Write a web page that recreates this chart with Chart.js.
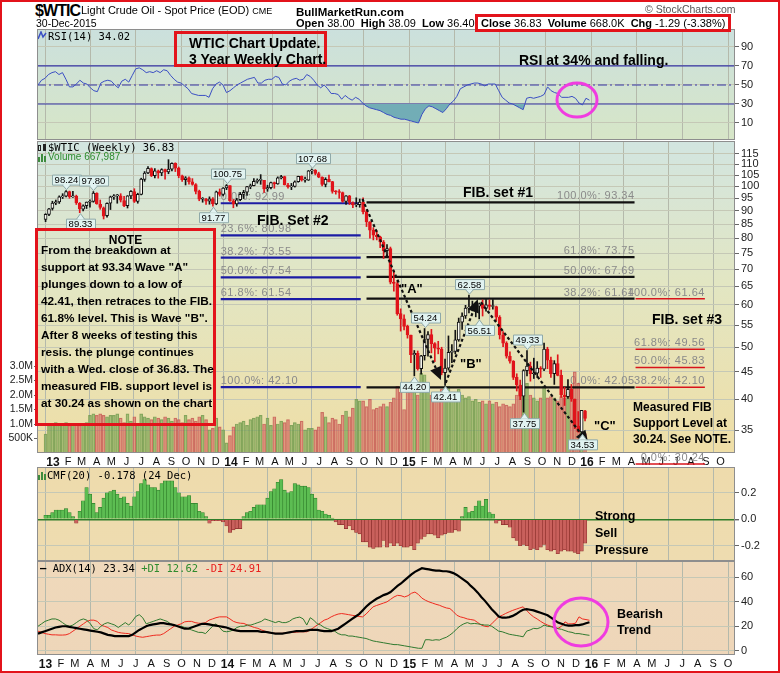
<!DOCTYPE html>
<html>
<head>
<meta charset="utf-8">
<title>$WTIC weekly</title>
<script src="https://cdn.jsdelivr.net/npm/chart.js@4.4.1/dist/chart.umd.min.js"></script>
<style>
  body { margin: 0; background: #fff; }
  #wrap { position: relative; width: 780px; height: 673px; overflow: hidden; background: #fff;
          font-family: 'Liberation Sans', Arial, sans-serif; color: #000; }
  #wrap canvas { position: absolute; left: 0; }
  .t { position: absolute; white-space: nowrap; line-height: 1; }
  .b { font-weight: bold; }
  .mono { font-family: 'DejaVu Sans Mono', monospace; font-size: 10.5px; }
  .ann { font-weight: bold; font-size: 13px; }
  .box { position: absolute; border: 3px solid #e3131b; box-sizing: border-box; }
  .ico { position: absolute; }
  #frame { position: absolute; left: 0; top: 0; width: 780px; height: 673px; box-sizing: border-box;
           border: 2px solid #e3131b; pointer-events: none; }
  svg.ov { position: absolute; left: 0; top: 0; }
</style>
</head>
<body>
<div id="wrap">
  <canvas id="rsiCv" width="780" height="111" style="top:29px"></canvas>
  <canvas id="priceCv" width="780" height="326" style="top:141px"></canvas>
  <canvas id="cmfCv" width="780" height="94" style="top:467px"></canvas>
  <canvas id="adxCv" width="780" height="112" style="top:561px"></canvas>

  <!-- header -->
  <div class="t b" style="left:35px;top:3px;font-size:16px;letter-spacing:-0.9px">$WTIC</div>
  <div class="t" style="left:81px;top:5px;font-size:11px">Light Crude Oil - Spot Price (EOD) <span style="font-size:9px">CME</span></div>
  <div class="t" style="left:36px;top:18px;font-size:10.5px">30-Dec-2015</div>
  <div class="t b" style="left:296px;top:7px;font-size:11.5px">BullMarketRun.com</div>
  <div class="t" style="left:296px;top:18px;font-size:11px"><b>Open</b> 38.00 &nbsp;<b>High</b> 38.09 &nbsp;<b>Low</b> 36.40</div>
  <div class="box" style="left:475px;top:14px;width:256px;height:18px"></div>
  <div class="t" style="left:481px;top:18px;font-size:11px"><b>Close</b> 36.83 &nbsp;<b>Volume</b> 668.0K &nbsp;<b>Chg</b> -1.29 (-3.38%)</div>
  <div class="t" style="left:645px;top:4px;font-size:10.5px;color:#555">© StockCharts.com</div>

  <!-- RSI panel texts -->
  <svg class="ico" style="left:38px;top:31px" width="9" height="9"><polyline points="0,8 3,1 5,6 8,2" fill="none" stroke="#3b4fc4" stroke-width="1.5"/></svg>
  <div class="t mono" style="left:48px;top:31px">RSI(14) 34.02</div>
  <div class="box" style="left:174px;top:31px;width:153px;height:36px"></div>
  <div class="t ann" style="left:189px;top:36px;font-size:14px">WTIC Chart Update.</div>
  <div class="t ann" style="left:189px;top:52px;font-size:14px">3 Year Weekly Chart.</div>
  <div class="t ann" style="left:519px;top:53px;font-size:14px">RSI at 34% and falling.</div>

  <!-- price panel texts -->
  <svg class="ico" style="left:38px;top:143px" width="9" height="9"><rect x="0.5" y="2.5" width="2" height="5" fill="none" stroke="#222"/><rect x="5" y="1" width="3" height="7" fill="#222"/></svg>
  <div class="t mono" style="left:48px;top:142px">$WTIC (Weekly) 36.83</div>
  <svg class="ico" style="left:38px;top:153px" width="9" height="9"><rect x="0" y="4" width="2" height="5" fill="#3d8b3d"/><rect x="3" y="1" width="2" height="8" fill="#3d8b3d"/><rect x="6" y="3" width="2" height="6" fill="#3d8b3d"/></svg>
  <div class="t" style="left:48px;top:152px;font-size:10px;color:#2e8b2e">Volume 667,987</div>
  <div class="t ann" style="left:463px;top:185px;font-size:14px">FIB. set #1</div>
  <div class="t ann" style="left:257px;top:213px;font-size:14px">FIB. Set #2</div>
  <div class="t ann" style="left:652px;top:312px;font-size:14px">FIB. set #3</div>
  <div class="t ann" style="left:401px;top:282px">"A"</div>
  <div class="t ann" style="left:460px;top:357px">"B"</div>
  <div class="t ann" style="left:594px;top:419px">"C"</div>
  <div class="t ann" style="left:633px;top:399px;font-size:12px;line-height:16px">Measured FIB<br>Support Level at<br>30.24. See NOTE.</div>
  <div class="box" style="left:35px;top:228px;width:181px;height:198px"></div>
  <div class="t ann" style="left:35px;top:234px;width:181px;text-align:center;font-size:12px">NOTE</div>
  <div class="t ann" style="left:41px;top:242px;font-size:11.8px;line-height:17px">From the breakdown at<br>support at 93.34 Wave "A"<br>plunges down to a low of<br>42.41, then retraces to the FIB.<br>61.8% level. This is Wave "B".<br>After 8 weeks of testing this<br>resis. the plunge continues<br>with a Wed. close of 36.83. The<br>measured FIB. support level is<br>at 30.24 as shown on the chart</div>

  <!-- CMF / ADX texts -->
  <svg class="ico" style="left:38px;top:471px" width="9" height="9"><rect x="0" y="4" width="2" height="5" fill="#3d8b3d"/><rect x="3" y="1" width="2" height="8" fill="#3d8b3d"/><rect x="6" y="3" width="2" height="6" fill="#3d8b3d"/></svg>
  <div class="t mono" style="left:47px;top:470px">CMF(20) -0.178 (24 Dec)</div>
  <div class="t ann" style="left:595px;top:508px;font-size:12.5px;line-height:17px">Strong<br>Sell<br>Pressure</div>
  <div class="t mono" style="left:40px;top:563px"><span style="font-weight:bold">&#x2014;</span> ADX(14) 23.34 <span style="color:#2e8b2e">+DI 12.62</span> <span style="color:#e8201e">-DI 24.91</span></div>
  <div class="t ann" style="left:617px;top:606px;font-size:12.5px;line-height:16px">Bearish<br>Trend</div>

  <svg class="ov" width="780" height="673">
    <ellipse cx="577" cy="100" rx="20" ry="17" fill="none" stroke="#f03ce0" stroke-width="3"/>
    <ellipse cx="581" cy="622" rx="27" ry="24" fill="none" stroke="#f03ce0" stroke-width="3"/>
  </svg>
  <div id="frame"></div>
</div>

<script>
// ---------- data (weekly, week 0 = week of 17 Dec 2012) ----------
const opens = [86.7,88.6,90.9,93.0,93.5,95.6,95.9,97.8,95.6,95.9,
  93.0,90.6,92.0,93.4,93.7,97.1,92.6,91.2,88.1,93.0,
  95.6,96.0,96.0,94.1,92.0,96.0,97.8,93.7,96.6,103.1,
  106.0,108.0,104.7,106.9,106.0,107.5,106.4,107.7,110.5,108.2,
  104.7,102.9,103.8,102.0,100.8,97.9,94.6,94.6,93.8,94.8,
  92.7,97.7,96.6,99.3,100.3,94.0,92.7,94.4,96.6,97.5,
  99.9,100.3,102.2,102.6,102.6,98.9,99.5,101.7,101.1,103.7,
  104.3,100.6,99.8,100.0,102.0,104.4,102.7,102.7,106.9,107.3,
  105.7,104.1,100.8,103.1,102.1,97.9,97.7,97.4,93.7,96.0,
  93.3,92.3,92.4,93.5,89.7,85.8,82.8,81.0,80.5,78.7,
  75.8,76.5,66.2,65.8,57.8,56.5,54.7,52.7,48.4,48.7,
  45.6,48.2,51.7,52.8,50.8,49.8,49.6,44.8,45.7,48.9,
  49.1,51.6,55.7,57.2,59.2,59.4,59.7,59.7,60.3,59.1,
  60.0,59.6,59.6,56.9,52.7,50.9,48.1,47.1,43.9,42.5,
  40.5,45.2,46.1,44.6,44.7,45.7,45.5,49.6,47.3,44.6,
  46.6,44.3,40.7,40.4,41.7,40.0,35.6,34.7,38.0];
const highs = [88.9,91.0,93.8,94.3,96.0,96.9,98.2,98.0,97.9,96.3,
  93.3,92.4,93.5,94.4,97.8,97.3,94.3,91.5,93.2,95.9,
  96.5,96.6,96.9,95.8,96.1,98.2,99.0,97.1,103.6,106.6,
  108.9,108.3,108.0,107.3,107.9,107.7,112.2,110.7,110.7,108.7,
  105.0,104.3,104.2,103.4,101.2,98.4,95.3,95.0,95.6,95.3,
  98.0,98.9,99.5,100.8,100.4,94.5,95.0,97.4,98.3,100.0,
  101.0,103.4,103.3,105.2,102.6,100.5,101.9,101.9,104.2,104.9,
  104.5,101.3,101.3,102.4,104.5,104.6,104.1,107.1,107.7,107.5,
  106.3,104.2,103.8,105.0,102.2,98.2,98.6,97.6,96.1,96.2,
  93.6,95.2,94.7,95.2,90.4,85.9,83.7,82.6,80.7,79.2,
  77.8,77.0,69.5,66.6,59.0,57.5,55.0,52.7,49.3,49.2,
  48.3,54.2,53.5,54.0,51.0,51.3,50.0,47.5,52.5,50.6,
  53.8,56.7,58.0,59.9,62.6,61.0,60.1,60.5,61.3,61.4,
  61.3,61.4,59.7,57.3,53.5,51.2,49.0,47.2,44.6,43.4,
  45.4,49.3,46.9,47.7,47.0,46.0,50.9,50.0,47.9,47.2,
  48.4,45.3,42.1,43.5,42.6,40.0,37.9,38.1,38.1];
const lows = [85.9,88.1,90.3,92.4,92.9,94.9,95.6,95.0,95.4,92.5,
  89.3,90.0,90.9,91.4,93.4,92.6,90.6,86.9,87.6,90.5,
  94.5,93.0,93.5,91.6,91.1,94.8,93.3,93.0,96.4,102.2,
  105.6,104.3,103.7,103.6,104.7,103.2,105.6,106.9,106.6,103.8,
  102.2,100.6,101.0,100.5,96.8,94.0,93.4,92.5,92.6,91.8,
  92.4,95.9,96.0,98.6,93.7,91.2,91.8,94.0,94.9,96.2,
  99.0,100.2,101.4,100.9,97.4,97.9,98.9,99.2,100.9,103.3,
  100.6,99.2,98.6,99.7,101.8,102.3,101.8,102.6,105.5,105.1,
  103.8,100.2,99.8,101.9,97.1,96.7,95.0,93.4,92.5,92.5,
  91.2,91.6,91.4,88.8,84.1,80.0,79.4,79.4,76.8,73.3,
  73.9,65.7,63.7,57.4,53.6,53.9,52.0,46.8,44.2,45.3,
  44.5,47.3,48.1,48.8,47.0,48.6,44.4,42.4,45.3,46.8,
  48.6,51.3,54.0,56.6,58.0,58.5,57.0,56.5,57.2,58.4,
  58.8,58.9,56.0,51.8,50.1,47.7,46.7,43.5,41.4,39.9,
  37.8,44.2,43.2,43.7,43.9,43.9,45.2,45.6,43.9,42.6,
  44.2,40.3,38.9,40.1,39.6,35.2,34.7,34.5,36.4];
const closes = [88.7,90.8,93.1,93.6,95.6,95.9,97.8,95.7,95.9,93.1,
  90.7,92.0,93.5,93.7,97.2,92.7,91.3,88.0,93.0,95.6,
  96.0,96.0,94.2,92.0,96.0,97.9,93.7,96.6,103.2,105.9,
  108.1,104.7,106.9,106.0,107.5,106.4,107.7,110.5,108.2,104.7,
  102.9,103.8,102.0,100.8,97.9,94.6,94.6,93.8,94.8,92.7,
  97.7,96.6,99.3,100.3,94.0,92.7,94.4,96.6,97.5,99.9,
  100.3,102.2,102.6,102.6,98.9,99.5,101.7,101.1,103.7,104.3,
  100.6,99.8,100.0,102.0,104.4,102.7,102.7,106.9,107.3,105.7,
  104.1,100.8,103.1,102.1,97.9,97.7,97.4,93.7,96.0,93.3,
  92.3,92.4,93.5,89.7,85.8,82.8,81.0,80.5,78.7,75.8,
  76.5,66.2,65.8,57.8,56.5,54.7,52.7,48.4,48.7,45.6,
  48.2,51.7,52.8,50.8,49.8,49.6,44.8,45.7,48.9,49.1,
  51.6,55.7,57.2,59.2,59.4,59.7,59.7,60.3,59.1,60.0,
  59.6,59.6,56.9,52.7,50.9,48.1,47.1,43.9,42.5,40.5,
  45.2,46.1,44.6,44.7,45.7,45.5,49.6,47.3,44.6,46.6,
  44.3,40.7,40.4,41.7,40.0,35.6,34.7,38.1,36.8];
const volumes = [0.65,0.95,1.0,1.05,1.0,1.0,1.05,0.95,1.0,1.0,
  0.95,1.0,1.05,1.3,1.35,1.3,1.35,1.3,1.25,1.3,
  1.3,1.35,1.2,1.05,1.35,1.1,1.25,1.0,1.35,1.25,
  1.2,1.15,1.25,1.2,1.15,1.25,1.2,1.1,1.2,1.15,
  1.05,1.3,1.15,1.2,1.1,1.25,1.3,1.15,0.8,0.85,
  1.2,0.9,0.8,0.35,0.6,0.9,1.0,1.05,1.1,0.95,
  1.15,1.2,1.25,1.3,1.0,1.2,0.95,1.25,1.0,1.1,
  1.05,1.15,0.95,1.05,1.0,1.1,0.8,0.85,0.85,0.8,
  0.9,1.4,1.25,1.05,1.2,1.15,1.0,1.3,1.45,1.25,
  1.55,1.85,1.8,1.8,1.6,1.85,1.5,1.55,1.6,1.7,
  1.6,1.75,1.9,2.3,2.1,1.5,2.2,2.1,2.2,2.0,
  2.75,2.7,2.3,2.0,1.9,2.0,2.2,2.1,2.3,1.9,
  2.0,2.2,2.0,1.9,1.95,1.8,1.85,1.75,1.8,1.7,
  1.8,1.7,1.75,1.6,1.7,1.65,1.6,1.7,2.0,2.2,
  2.5,2.4,2.0,1.9,1.8,1.9,2.3,1.9,1.95,1.9,
  1.8,1.95,1.9,2.1,2.0,2.8,2.4,1.4,0.67];
const rsi = [50,55,57,61,63,64,61,63,56,48,
  48,51,55,52,51,47,44,43,52,54,
  55,54,50,47,54,56,53,60,67,68,
  66,63,64,63,65,63,66,65,60,56,
  53,52,49,46,41,40,39,39,39,37,
  46,51,53,50,42,44,47,50,52,54,
  56,57,58,52,52,55,56,56,59,58,
  51,50,54,56,57,55,56,61,59,55,
  50,47,50,46,41,41,40,35,39,36,
  34,37,35,31,28,26,25,24,23,21,
  19,18,16,15,14,14,13,12,11,10,
  19,25,28,27,25,23,21,25,30,33,
  38,46,48,50,51,52,52,51,49,51,
  51,51,44,37,34,31,30,28,26,24,
  36,37,36,37,38,40,48,44,42,41,
  37,37,37,38,36,31,29,36,34];
const cmf = [0.03,0.03,0.05,0.07,0.07,0.07,0.08,0.05,0.02,-0.03,
  0.06,0.14,0.24,0.19,0.12,0.05,0.09,0.16,0.20,0.21,
  0.22,0.19,0.16,0.17,0.12,0.10,0.17,0.21,0.27,0.30,
  0.26,0.24,0.24,0.22,0.27,0.29,0.29,0.29,0.24,0.20,
  0.17,0.17,0.18,0.12,0.12,0.06,0.05,0.02,-0.03,-0.01,
  -0.01,-0.01,-0.02,-0.05,-0.10,-0.08,-0.07,-0.07,0.02,0.05,
  0.06,0.09,0.11,0.11,0.11,0.16,0.21,0.23,0.28,0.30,
  0.22,0.20,0.21,0.27,0.26,0.25,0.25,0.24,0.19,0.16,
  0.07,0.06,0.04,0.03,0.01,-0.02,-0.04,-0.04,-0.07,-0.05,
  -0.08,-0.10,-0.11,-0.17,-0.17,-0.21,-0.22,-0.21,-0.21,-0.16,
  -0.21,-0.18,-0.20,-0.18,-0.20,-0.21,-0.21,-0.20,-0.23,-0.18,
  -0.15,-0.13,-0.11,-0.11,-0.12,-0.14,-0.12,-0.11,-0.10,-0.10,
  -0.08,-0.09,0.02,0.09,0.05,0.06,0.10,0.14,0.10,0.15,
  0.05,0.04,-0.03,-0.01,-0.04,-0.04,-0.06,-0.14,-0.16,-0.20,
  -0.19,-0.20,-0.23,-0.22,-0.23,-0.21,-0.19,-0.23,-0.24,-0.23,
  -0.26,-0.24,-0.23,-0.24,-0.24,-0.25,-0.26,-0.24,-0.18];
const adx = [14,15,16,17,18,19,19.5,20,20,19.5,
  19,18.5,18,17.5,17,16.5,16,15.5,15,14,
  13,12.5,12,12,12,12,12,13,15,17,
  18.5,20,21,21.5,22,22.5,22.5,22,21.5,21,
  20,19,18,18,19,20,21,22,22,21.5,
  21,20.5,20,19.5,19,18,17,16.5,16,16,
  16,16,16,16,15.5,15.5,15,14.5,14,14,
  14,14.5,15,15.5,16,16,16,16.5,17,17,
  17,16.5,16,16,16,17,18,20,22,24,
  26,28,30,33,36,38.5,40.5,42.5,44,45.5,
  46.5,48,50.5,53,55,57.5,60,62.5,64.5,66,
  67.5,67,66.5,66,65.5,65.5,65,65,64.5,63.5,
  62,60,58,56,53,50.5,47.5,44,41,37.5,
  34,31,28,27,27,27.5,28.5,30,32,33.5,
  34,33.5,33,32,31,30,29,27,25,23,
  22,21,20.5,20.5,21,21,21.5,22.5,23.3];
const plusDI = [20,22,24,25,26,26,25,23,21,20,
  21,23,25,26,25,22,18,17,20,22,
  23,22,21,19,21,23,21,24,28,29.5,
  27,22,23,24,25,26,25,24,22,21,
  20,20,19,18,17,16,15,15,14,17,
  20,22,19,16,15.5,16,17,19,20,20,
  21,21,22,23,24,26,25,24,23,24,
  23,23,24,26,27,27.5,26,21,27,25,
  22,21,19,18,17,16,14,13,13,12,
  12,11.5,11,10.5,10,9,8,7.5,7,6.5,
  6,5.5,5,5,4.5,4,3.5,3,2.5,2,
  2,9,9,8.5,9,8.7,10,11,12.8,15,
  18,20.4,22,23,22,22.3,22,21.5,21,21,
  20,18,16,15.5,14.5,13.5,13,12.5,12,11.4,
  16,17,18.3,18,19,21,20,19.6,19,18,
  17.5,16.5,15.5,15,14,14,13.5,13,12.6];
const minusDI = [16,15,14,13.5,13,13,12.8,12.8,13,14,
  16,18,20,22,24,25,25,24,21,20,
  19,17,16,15,14.5,14.2,14,13,12,11.4,
  11,11.5,12,12.5,12.8,12.8,14,16,18,20,
  21,22,23.6,24,24,23,22.5,22.3,23,25,
  26,27,27.7,27.7,27.7,26,24,23,22.5,22.3,
  21,20,19,18.3,17,16,15,14.5,14.2,14.2,
  14.2,14.5,15,15,15.2,15.5,15.5,15.5,17,19,
  21,23,25,26,27.7,29,30,30.4,30,29.5,
  29,28.5,28,27.7,30,33,35.9,37,38,39,
  40,42,44,45.3,45,44,45,47,48,46,
  43,41.3,40,39,38,37.2,36,35,34.5,32,
  29,27.7,27,26,25.5,25,23,21,20,19.6,
  22,25,27.7,29,30.5,31.8,33,34,35,35.9,
  33,30,27.7,26,24,22.3,21,20,19,18.3,
  20,23.6,22,22,22.5,27.7,26,25.5,24.9];

// axis ticks
const monthLabels = ['13','F','M','A','M','J','J','A','S','O','N','D',
  '14','F','M','A','M','J','J','A','S','O','N','D',
  '15','F','M','A','M','J','J','A','S','O','N','D',
  '16','F','M','A','M','J','J','A','S','O'];
const priceTicks = [35,40,45,50,55,60,65,70,75,80,85,90,95,100,105,110,115];
const volTicks = [0.5,1.0,1.5,2.0,2.5,3.0];
const volTickLabels = ['500K','1.0M','1.5M','2.0M','2.5M','3.0M'];
const rsiTicks = [10,30,50,70,90];
const rsiLevels = [70,50,30];
const cmfTicks = [-0.2,0,0.2];
const adxTicks = [0,20,40,60];

// Fibonacci sets (levels, labels, week span)
const fib1Pct = ['100.0%','61.8%','50.0%','38.2%','0.0%'];
const fib1Val = [93.34,73.75,67.69,61.64,42.05];
const fib2Pct = ['0.0%','23.6%','38.2%','50.0%','61.8%','100.0%'];
const fib2Val = [92.99,80.98,73.55,67.54,61.54,42.10];
const fib3Pct = ['100.0%','61.8%','50.0%','38.2%','0.0%'];
const fib3Val = [61.64,49.56,45.83,42.10,30.24];
const fibFrom = [94, 51.3, 172.8];
const fibTo = [172.5, 92.3, 193.1];

// price callouts
const calloutWeek = [6,10,14,49,53,78,108,111,117,124,127,140,141,157];
const calloutValue = [98.24,89.33,97.80,91.77,100.75,107.68,44.20,54.24,42.41,62.58,56.51,37.75,49.33,34.53];
const calloutHigh = [true,false,true,false,true,true,false,true,false,true,false,false,true,false];

// wave arrows (week, price)
const waveFromWeek = [92.8,117.2,127.5];
const waveFromPrice = [94.7,42.9,60.7];
const waveToWeek = [115.8,126.6,159];
const waveToPrice = [43.4,61.5,33.0];

// ---------- layout / style ----------
const SANS = "'Liberation Sans', Arial, Helvetica, sans-serif";
const X_MIN = -0.29, X_MAX = 199.7;
const VOL_MAX = 10.76;
const GRID = '#c5c8b6';
const GRID_Q = '#b4b9ab';
const UP = '#111111', DOWN = '#e0141b';
Chart.defaults.font.family = SANS;

const weekStart = Date.UTC(2012, 11, 17);
const monthPos = monthLabels.map((_, k) =>
  (Date.UTC(2013 + Math.floor(k / 12), k % 12, 1) - weekStart) / (7 * 864e5));
const isYear = s => /^\d/.test(s);

const panelBg = {
  id: 'panelBg',
  beforeDraw(chart, args, opts) {
    const { ctx, chartArea: a } = chart;
    const g = ctx.createLinearGradient(0, a.top, 0, a.bottom);
    (opts.stops || [[0, '#fff'], [1, '#fff']]).forEach(s => g.addColorStop(s[0], s[1]));
    ctx.save();
    ctx.fillStyle = g;
    ctx.fillRect(a.left, a.top, a.right - a.left, a.bottom - a.top);
    ctx.restore();
  },
  afterDraw(chart) {
    const { ctx, chartArea: a } = chart;
    ctx.save();
    ctx.strokeStyle = '#8e8e8e';
    ctx.lineWidth = 1;
    ctx.strokeRect(a.left + 0.5, a.top + 0.5, a.right - a.left - 1, a.bottom - a.top - 1);
    ctx.restore();
  }
};
Chart.register(panelBg);

// fixed axis sizes, no automatic label padding
const fixW = w => s => { s.width = w; s.paddingTop = 0; s.paddingBottom = 0; };
const fixH = h => s => { s.height = h; s.paddingLeft = 0; s.paddingRight = 0; };

function xAxis(showLabels, h) {
  return {
    type: 'linear', min: X_MIN, max: X_MAX,
    afterBuildTicks: s => { s.ticks = monthPos.map(v => ({ value: v })); },
    afterFit: fixH(h),
    border: { display: false },
    grid: { color: c => (c.index % 3 === 0 ? GRID_Q : 'rgba(0,0,0,0)'), drawTicks: false },
    ticks: {
      display: showLabels, autoSkip: false, maxRotation: 0, minRotation: 0, padding: 2, color: '#111',
      callback: (v, i) => monthLabels[i],
      font: c => isYear(monthLabels[c.index] || '')
        ? { family: SANS, size: 12, weight: 'bold' }
        : { family: SANS, size: 11 }
    }
  };
}

function rightAxis(extra) {
  return Object.assign({
    position: 'right',
    afterFit: fixW(45),
    border: { display: false },
    grid: { color: GRID, tickColor: '#666', tickLength: 4 },
    ticks: { color: '#222', font: { family: SANS, size: 11 }, padding: 2 }
  }, extra);
}

function baseOptions(stops, scales, padLeft) {
  return {
    responsive: false, animation: false, events: [],
    layout: { padding: { left: padLeft, right: 0, top: 0, bottom: 0 }, autoPadding: false },
    plugins: { legend: { display: false }, tooltip: { enabled: false }, panelBg: { stops } },
    scales
  };
}

const pts = arr => arr.map((v, i) => ({ x: i, y: v }));
const hline = (v, from, to) => [{ x: from, y: v }, { x: to, y: v }];

// ---------- RSI ----------
new Chart(document.getElementById('rsiCv'), {
  type: 'line',
  data: {
    datasets: [
      { data: pts(rsi), borderColor: '#3b4fc4', borderWidth: 1, pointRadius: 0,
        fill: { target: { value: 30 }, above: 'rgba(0,0,0,0)', below: '#72adb6' }, order: 1 },
      ...rsiLevels.map(v => ({
        data: hline(v, X_MIN, X_MAX), borderColor: '#3434a6', borderWidth: 1.2, pointRadius: 0,
        borderDash: v === 50 ? [9, 3, 2, 3] : [], order: 2
      }))
    ]
  },
  options: baseOptions([[0, '#cbe0dd'], [1, '#d7e6c7']], {
    x: xAxis(false, 0),
    y: rightAxis({
      min: -7.9, max: 108.9,
      afterBuildTicks: s => { s.ticks = rsiTicks.map(v => ({ value: v })); },
      ticks: { color: '#222', font: { family: SANS, size: 11 }, padding: 2, callback: v => v }
    })
  }, 37)
});

// ---------- price + volume ----------
const candleUp = closes.map((c, i) => c >= opens[i]);
const volUp = closes.map((c, i) => i === 0 || c >= closes[i - 1]);

const fibSets = [
  { pct: fib1Pct, val: fib1Val, from: fibFrom[0], to: fibTo[0], color: '#111', left: false },
  { pct: fib2Pct, val: fib2Val, from: fibFrom[1], to: fibTo[1], color: '#1c1ca4', left: true },
  { pct: fib3Pct, val: fib3Val, from: fibFrom[2], to: fibTo[2], color: '#d8141b', left: false }
];
const fibDatasets = [];
fibSets.forEach((s, k) => s.val.forEach(v => fibDatasets.push({
  type: 'line', yAxisID: 'y', data: hline(v, s.from, s.to), borderColor: s.color,
  borderWidth: k === 2 ? 1.5 : 2.2, pointRadius: 0, order: 5, clip: k === 2 ? false : undefined
})));

function drawCallout(ctx, x, yTip, text, high) {
  ctx.font = '9.5px ' + SANS;
  const w = Math.round(ctx.measureText(text).width) + 5, h = 10;
  const by = high ? yTip - 5 - h : yTip + 5;
  const bx = Math.round(x - w / 2);
  ctx.fillStyle = '#e1f3f1';
  ctx.strokeStyle = '#8fa9a9';
  ctx.lineWidth = 1;
  ctx.beginPath();
  ctx.moveTo(bx + 0.5, by + 0.5);
  ctx.lineTo(bx + w + 0.5, by + 0.5);
  ctx.lineTo(bx + w + 0.5, by + h + 0.5);
  ctx.lineTo(bx + 0.5, by + h + 0.5);
  ctx.closePath();
  ctx.fill(); ctx.stroke();
  ctx.beginPath();
  const edge = high ? by + h + 0.5 : by + 0.5;
  ctx.moveTo(x - 4, edge); ctx.lineTo(x, yTip); ctx.lineTo(x + 4, edge);
  ctx.fill(); ctx.stroke();
  ctx.fillStyle = '#e1f3f1';
  ctx.fillRect(x - 3, high ? by + h - 1 : by + 1, 6, 1.5);
  ctx.fillStyle = '#000';
  ctx.textAlign = 'center';
  ctx.textBaseline = 'middle';
  ctx.fillText(text, x, by + h / 2 + 1);
}

function drawArrow(ctx, x1, y1, x2, y2) {
  const a = Math.atan2(y2 - y1, x2 - x1), L = 13, W = 6;
  const bx = x2 - L * Math.cos(a), by = y2 - L * Math.sin(a);
  ctx.strokeStyle = '#111';
  ctx.lineWidth = 2.2;
  ctx.setLineDash([3, 2.5]);
  ctx.beginPath(); ctx.moveTo(x1, y1); ctx.lineTo(bx, by); ctx.stroke();
  ctx.setLineDash([]);
  ctx.fillStyle = '#111';
  ctx.beginPath();
  ctx.moveTo(x2, y2);
  ctx.lineTo(bx + W * Math.sin(a), by - W * Math.cos(a));
  ctx.lineTo(bx - W * Math.sin(a), by + W * Math.cos(a));
  ctx.closePath(); ctx.fill();
}

const priceMarks = {
  id: 'priceMarks',
  beforeDatasetsDraw(chart) {
    const { ctx, scales: { x, y } } = chart;
    ctx.save();
    ctx.font = '11px ' + SANS;
    ctx.letterSpacing = '0.5px';
    ctx.fillStyle = '#8a8a8a';
    ctx.textBaseline = 'alphabetic';
    fibSets.forEach(s => s.val.forEach((v, k) => {
      const txt = s.pct[k] + ': ' + v.toFixed(2);
      const py = y.getPixelForValue(v) - 3;
      if (s.left) { ctx.textAlign = 'left'; ctx.fillText(txt, x.getPixelForValue(s.from), py); }
      else { ctx.textAlign = 'right'; ctx.fillText(txt, x.getPixelForValue(s.to), py); }
    }));
    ctx.restore();
  },
  afterDatasetsDraw(chart) {
    const { ctx, scales: { x, y } } = chart;
    ctx.save();
    waveFromWeek.forEach((w, k) => drawArrow(ctx,
      x.getPixelForValue(w), y.getPixelForValue(waveFromPrice[k]),
      x.getPixelForValue(waveToWeek[k]), y.getPixelForValue(waveToPrice[k])));
    calloutWeek.forEach((w, k) => {
      const tip = calloutHigh[k] ? y.getPixelForValue(highs[w]) - 1 : y.getPixelForValue(lows[w]) + 1;
      drawCallout(ctx, Math.round(x.getPixelForValue(w)) + 0.5, tip, calloutValue[k].toFixed(2), calloutHigh[k]);
    });
    ctx.restore();
  }
};

new Chart(document.getElementById('priceCv'), {
  type: 'bar',
  data: {
    datasets: [
      { type: 'bar', yAxisID: 'vol', data: pts(volumes), grouped: false, order: 10, barThickness: 3,
        backgroundColor: volUp.map(u => u ? 'rgba(124,168,86,0.62)' : 'rgba(212,96,92,0.55)'),
        borderColor: volUp.map(u => u ? 'rgba(96,140,66,0.7)' : 'rgba(186,76,72,0.7)'), borderWidth: 0.5 },
      ...fibDatasets,
      { type: 'bar', yAxisID: 'y', grouped: false, order: 2, barThickness: 1,
        data: highs.map((h, i) => ({ x: i, y: [lows[i], h] })),
        backgroundColor: candleUp.map(u => u ? UP : DOWN) },
      { type: 'bar', yAxisID: 'y', grouped: false, order: 1, barThickness: 3, minBarLength: 1,
        data: opens.map((o, i) => ({ x: i, y: [o, closes[i]] })),
        backgroundColor: candleUp.map(u => u ? '#fbfbf2' : DOWN),
        borderColor: candleUp.map(u => u ? UP : DOWN), borderWidth: 1, borderSkipped: false }
    ]
  },
  options: baseOptions([[0, '#d2e5e0'], [0.45, '#e2e6c3'], [1, '#efdea6']], {
    x: xAxis(true, 14),
    y: rightAxis({
      type: 'logarithmic', min: 31.7, max: 121.6,
      afterBuildTicks: s => { s.ticks = priceTicks.map(v => ({ value: v })); },
      ticks: { color: '#222', font: { family: SANS, size: 11 }, padding: 2, callback: v => v }
    }),
    vol: {
      type: 'linear', position: 'left', min: 0, max: VOL_MAX,
      afterFit: fixW(37),
      afterBuildTicks: s => { s.ticks = volTicks.map(v => ({ value: v })); },
      border: { display: false },
      grid: { drawOnChartArea: false, tickLength: 3, tickColor: '#666' },
      ticks: { color: '#222', font: { family: SANS, size: 10.5 }, padding: 1,
               callback: (v, i) => volTickLabels[i] }
    }
  }, 0),
  plugins: [priceMarks]
});

// ---------- CMF ----------
new Chart(document.getElementById('cmfCv'), {
  type: 'bar',
  data: {
    datasets: [{
      data: pts(cmf), barThickness: 3.5, grouped: false,
      backgroundColor: cmf.map(v => v >= 0 ? '#5cbd52' : '#c9605c'),
      borderColor: cmf.map(v => v >= 0 ? '#2f7d2a' : '#8a2d2a'), borderWidth: 0.6
    }]
  },
  options: baseOptions([[0, '#eedbac'], [1, '#eedcb0']], {
    x: xAxis(false, 0),
    y: rightAxis({
      min: -0.315, max: 0.395,
      afterBuildTicks: s => { s.ticks = cmfTicks.map(v => ({ value: v })); },
      grid: { color: c => (c.tick && c.tick.value === 0 ? '#2f7d2a' : GRID), tickColor: '#666', tickLength: 4,
              lineWidth: c => (c.tick && c.tick.value === 0 ? 1.4 : 1) },
      ticks: { color: '#222', font: { family: SANS, size: 11 }, padding: 2, callback: v => v.toFixed(1) }
    })
  }, 37)
});

// ---------- ADX ----------
new Chart(document.getElementById('adxCv'), {
  type: 'line',
  data: {
    datasets: [
      { data: pts(minusDI), borderColor: '#ee2a1f', borderWidth: 1, pointRadius: 0, order: 3 },
      { data: pts(plusDI), borderColor: '#2f7a2f', borderWidth: 1, pointRadius: 0, order: 2 },
      { data: pts(adx), borderColor: '#000', borderWidth: 2.2, pointRadius: 0, order: 1 }
    ]
  },
  options: baseOptions([[0, '#efd9bb'], [1, '#eed6b9']], {
    x: xAxis(true, 18),
    y: rightAxis({
      min: -3.5, max: 73.4,
      afterBuildTicks: s => { s.ticks = adxTicks.map(v => ({ value: v })); },
      ticks: { color: '#222', font: { family: SANS, size: 11 }, padding: 2, callback: v => v }
    })
  }, 37)
});
</script>
</body>
</html>
